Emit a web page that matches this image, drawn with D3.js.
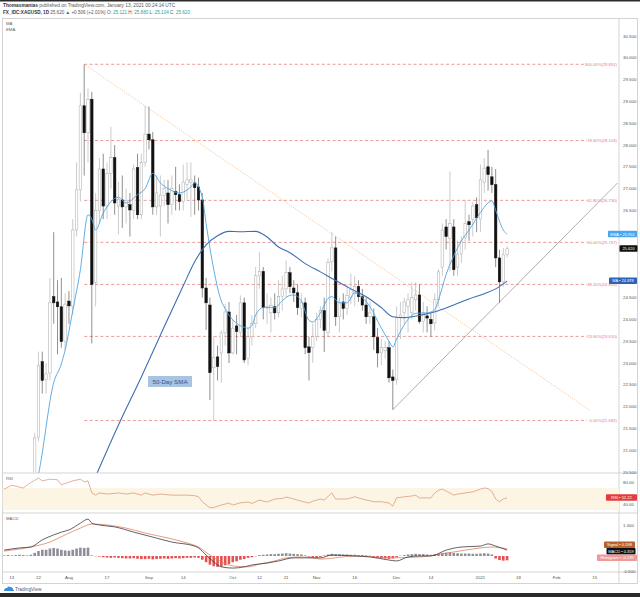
<!DOCTYPE html>
<html><head><meta charset="utf-8">
<script src="https://cdn.jsdelivr.net/npm/d3@7/dist/d3.min.js"></script>
<style>html,body{margin:0;padding:0;background:#fff;}svg{display:block;font-family:"Liberation Sans",Arial,sans-serif;}</style>
</head><body>
<svg id="chart" width="640" height="597"></svg>
<script>
// ---------- DATA ----------
const holidays = ["2020-12-25","2021-01-01"];
const candleStart = "2020-07-20"; // consecutive trading days from here
const opens = [
 19.85,20.40,21.30,23.03,22.62,22.77,24.52,24.40,24.29,23.50,
 24.42,24.30,26.05,26.97,28.90,28.28,29.05,24.85,26.50,27.45,26.60,27.35,27.71,26.60,26.74,26.58,26.63,26.50,27.48,26.40,27.60,
 28.25,28.12,26.58,26.60,26.85,26.90,26.63,26.93,26.86,26.70,27.10,27.15,27.13,27.04,26.74,24.72,24.33,22.89,23.14,23.23,23.69,24.17,
 23.23,23.85,23.70,24.38,23.10,23.60,23.90,25.00,25.10,24.27,24.15,24.29,24.15,24.52,24.70,25.07,24.72,24.61,24.25,24.38,23.37,23.35,
 23.60,24.00,24.20,23.70,25.32,25.64,24.06,24.40,24.25,24.50,24.60,24.75,24.52,24.33,24.06,24.06,23.58,23.23,23.28,23.35,22.68,
 22.62,24.04,24.15,24.30,24.15,24.45,24.56,23.95,24.08,24.00,23.92,24.45,25.20,26.12,25.85,26.12,25.20,25.50,25.88,26.24,26.30,26.63,
 26.30,27.15,27.50,27.27,27.09,25.41,24.86,25.48];
const highs = [
 20.45,21.40,23.26,23.26,23.00,24.95,26.00,24.90,24.95,24.60,
 24.65,26.30,27.60,29.20,29.851,29.30,29.22,26.90,27.70,27.80,27.60,28.42,28.00,27.15,27.30,27.00,26.90,27.55,27.80,27.80,28.90,
 28.88,28.30,27.30,27.30,27.20,27.20,27.30,27.50,27.10,27.55,27.60,27.60,27.30,27.25,26.90,24.95,24.50,23.60,23.40,23.75,24.35,24.40,
 24.00,24.10,24.55,24.50,23.80,24.10,25.20,25.55,25.20,24.60,24.50,24.60,24.90,25.00,25.35,25.20,24.90,24.80,24.60,24.50,23.60,23.90,
 24.15,24.30,24.50,25.40,26.00,25.90,24.50,24.60,24.80,25.05,25.00,24.90,24.70,24.50,24.40,24.25,23.80,23.55,23.50,23.50,22.85,
 24.30,24.40,24.50,24.60,24.85,24.85,24.80,24.40,24.30,24.15,24.60,25.15,26.20,26.30,27.39,26.30,25.80,25.90,26.74,26.40,26.70,26.80,
 27.55,27.70,27.89,27.50,27.45,25.60,25.64,25.68];
const lows = [
 19.75,20.30,21.20,22.30,22.30,22.60,23.90,23.20,23.35,23.30,
 23.90,24.10,25.90,26.70,27.30,27.60,23.45,24.30,26.20,26.30,26.30,27.00,26.40,25.95,26.10,26.20,25.90,26.30,26.30,26.30,27.50,
 27.90,26.40,26.40,25.90,26.60,26.20,26.40,26.50,26.50,26.50,26.75,26.35,26.40,26.50,24.50,23.76,22.15,21.68,22.60,22.55,23.40,23.00,
 23.20,23.20,23.60,23.00,22.95,23.40,23.80,24.70,24.00,23.90,23.70,24.00,24.05,24.20,24.50,24.60,24.40,24.10,24.05,23.20,22.60,23.00,
 23.50,23.80,23.25,23.60,25.10,23.85,23.70,24.00,24.10,24.35,24.30,24.40,24.20,23.90,23.90,23.30,22.90,22.95,23.10,22.55,21.93,
 22.50,23.55,23.90,23.70,24.00,24.20,23.90,23.70,23.70,23.60,23.75,24.30,25.00,25.60,25.10,25.00,25.00,25.30,25.60,25.80,25.90,26.00,
 26.00,26.90,26.95,26.90,25.20,24.38,24.75,25.42];
const closes = [
 20.40,21.28,22.95,22.60,22.75,24.38,24.38,24.29,23.49,24.35,
 24.31,26.05,26.97,28.90,28.28,29.05,24.80,26.50,27.45,26.60,27.35,27.71,26.67,26.75,26.58,26.72,26.51,27.45,26.40,27.60,28.25,
 28.12,26.58,26.90,26.85,27.00,26.63,27.00,26.86,26.70,27.15,27.20,27.20,27.02,26.74,24.72,24.38,22.78,23.12,22.92,23.69,24.17,23.23,
 23.80,23.72,24.38,23.07,23.60,23.90,25.00,25.10,24.27,24.30,24.32,24.15,24.52,24.70,25.07,24.75,24.61,24.27,24.40,23.35,23.24,23.60,
 24.00,24.20,23.75,25.30,25.64,24.06,24.40,24.25,24.55,24.68,24.75,24.52,24.33,24.06,24.15,23.60,23.23,23.35,23.36,22.66,22.60,
 24.04,24.10,24.40,24.45,24.50,24.56,23.95,24.15,24.03,23.90,24.45,25.09,26.05,25.90,26.20,25.14,25.50,25.80,26.20,26.17,26.60,26.33,
 27.20,27.47,27.32,27.09,25.41,24.86,25.48,25.62];

const emaDates = ["2020-07-17","2020-07-22","2020-07-28","2020-07-30","2020-07-31","2020-08-04","2020-08-06","2020-08-10","2020-08-11","2020-08-12","2020-08-14","2020-08-20","2020-08-24","2020-08-27","2020-08-31","2020-09-02","2020-09-04","2020-09-08","2020-09-11","2020-09-16","2020-09-17","2020-09-21","2020-09-22","2020-09-24","2020-09-28","2020-09-29","2020-09-30","2020-10-01","2020-10-06","2020-10-07","2020-10-08","2020-10-09","2020-10-13","2020-10-16","2020-10-20","2020-10-22","2020-10-23","2020-10-27","2020-10-29","2020-10-30","2020-11-03","2020-11-05","2020-11-06","2020-11-10","2020-11-12","2020-11-16","2020-11-18","2020-11-20","2020-11-25","2020-11-27","2020-11-30","2020-12-01","2020-12-04","2020-12-08","2020-12-11","2020-12-15","2020-12-16","2020-12-18","2020-12-22","2020-12-24","2020-12-29","2021-01-04","2021-01-06","2021-01-07","2021-01-08","2021-01-12","2021-01-13"];
const emaValues = [19.6,20.45,22.55,22.98,23.3,24.2,25.14,26.4,26.3,26.05,26.44,26.8,26.67,26.86,27.0,27.35,27.13,27.0,26.9,27.04,27.13,26.8,26.2,25.15,24.42,24.25,24.1,23.99,23.82,23.8,23.86,24.1,24.27,24.27,24.43,24.55,24.56,24.42,23.98,23.94,24.15,24.48,24.52,24.38,24.38,24.61,24.5,24.29,23.8,23.5,23.37,23.55,24.0,24.14,24.15,24.22,24.45,25.03,25.46,25.8,26.05,26.45,26.67,26.72,26.5,26.05,25.951];

const smaDates = ["2020-08-11","2020-08-12","2020-08-20","2020-08-28","2020-09-07","2020-09-14","2020-09-17","2020-09-22","2020-09-25","2020-09-30","2020-10-05","2020-10-09","2020-10-14","2020-10-19","2020-10-22","2020-10-28","2020-11-03","2020-11-09","2020-11-13","2020-11-19","2020-11-25","2020-11-30","2020-12-03","2020-12-10","2020-12-16","2020-12-22","2020-12-29","2021-01-05","2021-01-08","2021-01-13"];
const smaValues = [20.2,20.4,21.58,22.68,23.83,24.77,25.32,25.71,25.92,26.02,26.01,26.02,25.89,25.66,25.53,25.28,25.09,24.89,24.70,24.52,24.27,24.06,24.04,24.11,24.20,24.33,24.47,24.59,24.70,24.878];

const fibLevels = [1, 0.786, 0.618, 0.5, 0.382, 0.236, 0];
const fibHigh = 29.851, fibLow = 21.682, fibStart = "2020-08-07", fibEnd = "2021-02-11";
const descLine = [["2020-08-07",29.851],["2021-02-12",21.9]];
const ascLine = [["2020-11-30",21.93],["2021-02-23",27.13]];

const rsiDates = ["2020-07-09","2020-07-13","2020-07-16","2020-07-20","2020-07-21","2020-07-22","2020-07-23","2020-07-27","2020-07-29","2020-07-30","2020-07-31","2020-08-04","2020-08-06","2020-08-07","2020-08-10","2020-08-11","2020-08-12","2020-08-13","2020-08-17","2020-08-20","2020-08-24","2020-08-26","2020-08-28","2020-08-31","2020-09-02","2020-09-04","2020-09-09","2020-09-15","2020-09-17","2020-09-18","2020-09-21","2020-09-23","2020-09-24","2020-09-28","2020-09-30","2020-10-01","2020-10-05","2020-10-07","2020-10-08","2020-10-12","2020-10-14","2020-10-16","2020-10-20","2020-10-21","2020-10-23","2020-10-27","2020-10-29","2020-10-30","2020-11-03","2020-11-04","2020-11-06","2020-11-09","2020-11-12","2020-11-16","2020-11-18","2020-11-23","2020-11-25","2020-11-27","2020-11-30","2020-12-01","2020-12-03","2020-12-07","2020-12-08","2020-12-09","2020-12-14","2020-12-15","2020-12-16","2020-12-17","2020-12-18","2020-12-22","2020-12-23","2020-12-28","2020-12-30","2021-01-04","2021-01-05","2021-01-06","2021-01-07","2021-01-08","2021-01-11","2021-01-12","2021-01-13"];
const rsiValues = [68,75,70,80,84,88,83,86,85,76,78,83,86,81,83,61,57,61,59,61,59,61,57,61,57,59,57,57,56,54,45,34,34.5,39,42.7,39,43,44.5,42,48,44.5,50,51,53.6,50,46,42.7,46,50,48,61,50,50,54,50,45,45,42.7,37,52,54,55.5,57,52,52,61,66,68,64.5,57,59,61,63,68,70,69,64,50,45,50,52.22];

const macdDates = ["2020-07-09","2020-07-15","2020-07-20","2020-07-23","2020-07-28","2020-07-30","2020-08-03","2020-08-06","2020-08-10","2020-08-11","2020-08-13","2020-08-19","2020-08-26","2020-09-02","2020-09-09","2020-09-17","2020-09-18","2020-09-22","2020-09-24","2020-09-28","2020-10-01","2020-10-06","2020-10-08","2020-10-14","2020-10-19","2020-10-23","2020-10-28","2020-11-03","2020-11-06","2020-11-16","2020-11-20","2020-11-27","2020-12-01","2020-12-04","2020-12-09","2020-12-14","2020-12-18","2020-12-24","2021-01-04","2021-01-06","2021-01-08","2021-01-13"];
const macdValues = [0.19,0.26,0.29,0.52,0.68,0.77,0.84,1.06,1.19,1.06,1.0,0.94,0.77,0.61,0.45,0.32,0.26,0.03,-0.19,-0.35,-0.39,-0.35,-0.29,-0.23,-0.16,-0.06,-0.06,-0.06,0.03,0,-0.03,-0.13,-0.16,-0.03,0,0,0.19,0.29,0.32,0.39,0.32,0.19];
const signalDates = ["2020-07-09","2020-07-20","2020-07-27","2020-07-31","2020-08-06","2020-08-11","2020-08-17","2020-08-24","2020-08-31","2020-09-08","2020-09-15","2020-09-18","2020-09-23","2020-09-28","2020-10-01","2020-10-07","2020-10-12","2020-10-16","2020-10-21","2020-10-27","2020-10-30","2020-11-03","2020-11-16","2020-11-27","2020-12-09","2020-12-22","2021-01-04","2021-01-07","2021-01-13"];
const signalValues = [0.16,0.29,0.45,0.68,0.90,1.03,1.0,0.9,0.74,0.58,0.42,0.29,0.03,-0.19,-0.32,-0.35,-0.26,-0.16,-0.06,-0.03,-0.06,-0.1,0,-0.06,-0.03,0.13,0.26,0.29,0.23];
const histStart = "2020-07-09";
const histValues = [
 0.02,0.03,0.02,0.03,0.04,0.03,0.02,
 0.04,0.10,0.16,0.20,0.20,0.24,0.26,0.24,0.20,0.18,0.17,0.20,0.24,0.27,0.26,0.27,
 0.02,-0.01,-0.02,
 -0.04,-0.05,-0.06,-0.05,-0.06,-0.07,-0.08,-0.08,-0.07,-0.09,-0.10,-0.10,-0.09,-0.11,-0.10,-0.09,-0.08,-0.09,-0.08,-0.07,-0.08,-0.07,-0.06,-0.06,-0.05,-0.06,
 -0.12,-0.20,-0.28,-0.33,-0.35,-0.34,-0.30,-0.26,-0.20,-0.17,-0.12,-0.10,-0.06,-0.04,-0.01,
 0.03,0.04,0.05,0.06,0.06,0.07,0.08,0.09,0.08,0.07,0.06,0.05,0.02,-0.02,-0.04,-0.05,-0.03,
 0.02,0.05,0.07,0.06,0.06,0.05,0.05,0.04,0.04,0.03,0.03,0.02,0.01,
 -0.03,-0.05,-0.07,-0.08,-0.09,-0.08,
 -0.04,0.01,0.03,0.05,0.06,0.07,0.06,0.06,0.05,0.04,0.06,0.08,0.10,0.11,0.12,0.10,0.09,0.08,0.08,0.08,0.07,0.07,0.08,0.09,0.08,0.05,
 -0.08,-0.13,-0.15,-0.14];

const priceTicks = [20.5,21,21.5,22,22.5,23,23.5,24,24.5,25,25.5,26,26.5,27,27.5,28,28.5,29,29.5,30,30.5];
const rsiTicks = [80,60,40];
const macdTicks = [1,0.5,0,-0.5];
const xTickDates = ["2020-07-13","2020-07-22","2020-08-03","2020-08-17","2020-09-01","2020-09-14","2020-10-01","2020-10-12","2020-10-21","2020-11-02","2020-11-16","2020-12-01","2020-12-14","2021-01-04","2021-01-18","2021-02-01","2021-02-15"];
const xTickLabels = ["13","22","Aug","17","Sep","14","Oct","12","21","Nov","16","Dec","14","2021","18","Feb","15"];

// ---------- CALENDAR / SCALES ----------
const cal = [];
for (let d = new Date(Date.UTC(2020,6,1)); d <= new Date(Date.UTC(2021,2,10)); d.setUTCDate(d.getUTCDate()+1)) {
  const wd = d.getUTCDay(); const s = d.toISOString().slice(0,10);
  if (wd > 0 && wd < 6 && !holidays.includes(s)) cal.push(s);
}
const base = cal.indexOf("2020-07-13");
const idx = s => cal.indexOf(s) - base;
const x = d3.scaleLinear().domain([0, 1]).range([11.8, 15.61]);
const xd = s => x(idx(s));
const yMain = d3.scaleLinear().domain([20.5, 30.5]).range([472, 36]);
const yRsi = d3.scaleLinear().domain([30, 70]).range([510, 488]);
const yMacd = d3.scaleLinear().domain([0, 1]).range([556, 525]);

const c0 = cal.indexOf(candleStart);
const candles = opens.map((o,i)=>({date: cal[c0+i], o, h: highs[i], l: lows[i], c: closes[i]}));
const zip = (ds, vs) => ds.map((d,i)=>({date:d, v:vs[i]}));
const h0 = cal.indexOf(histStart);
const hist = histValues.map((v,i)=>({date: cal[h0+i], v}));

const PANE_L = 2.5, PANE_R = 619;
const svg = d3.select("#chart");
const defs = svg.append("defs");
function clip(id, y0, y1){ defs.append("clipPath").attr("id",id).append("rect").attr("x",PANE_L).attr("y",y0).attr("width",PANE_R-PANE_L).attr("height",y1-y0); }
clip("cMain", 18.5, 472.8); clip("cRsi", 473.3, 512.7); clip("cMacd", 513.3, 571.7);

// ---------- FRAME ----------
svg.append("rect").attr("width",640).attr("height",597).attr("fill","#fff");
svg.append("rect").attr("width",640).attr("height",1.5).attr("fill","#2b2b2b");
svg.append("rect").attr("y",593).attr("width",640).attr("height",4).attr("fill","#2b2b2b");
svg.append("rect").attr("x",PANE_L).attr("y",18.5).attr("width",635).attr("height",565).attr("fill","none").attr("stroke","#c9c9c9").attr("stroke-width",0.8);
[473,513,572].forEach(y=>svg.append("line").attr("x1",PANE_L).attr("x2",637.5).attr("y1",y).attr("y2",y).attr("stroke","#c9c9c9").attr("stroke-width",0.8));
svg.append("line").attr("x1",PANE_R).attr("x2",PANE_R).attr("y1",18.5).attr("y2",583.5).attr("stroke","#c9c9c9").attr("stroke-width",0.8);

// header
const h1 = svg.append("text").attr("x",3).attr("y",6.5).attr("font-size",4.8).attr("fill","#555");
h1.append("tspan").attr("font-weight","bold").attr("fill","#333").text("Thomasmanias");
h1.append("tspan").text(" published on TradingView.com, January 13, 2021 00:24:14 UTC");
const h2 = svg.append("text").attr("x",3).attr("y",13.5).attr("font-size",4.6).attr("fill","#555");
h2.append("tspan").attr("font-weight","bold").attr("fill","#333").text("FX_IDC:XAGUSD, 1D");
h2.append("tspan").text(" 25.620 ▲ +0.506 (+2.01%) O: ");
h2.append("tspan").attr("fill","#26a69a").text("25.121");
h2.append("tspan").text(" H: ");
h2.append("tspan").attr("fill","#26a69a").text("25.880");
h2.append("tspan").text(" L: ");
h2.append("tspan").attr("fill","#26a69a").text("25.104");
h2.append("tspan").text(" C: ");
h2.append("tspan").attr("fill","#26a69a").text("25.620");
svg.append("text").attr("x",6).attr("y",25).attr("font-size",4.3).attr("fill","#666").text("MA");
svg.append("text").attr("x",6).attr("y",31).attr("font-size",4.3).attr("fill","#666").text("EMA");

// ---------- MAIN PANE ----------
const gMain = svg.append("g").attr("clip-path","url(#cMain)");
fibLevels.forEach(f=>{
  const v = fibLow + (fibHigh - fibLow)*f;
  gMain.append("line").attr("x1",xd(fibStart)).attr("x2",xd(fibEnd)).attr("y1",yMain(v)).attr("y2",yMain(v))
    .attr("stroke","#e88080").attr("stroke-width",0.8).attr("stroke-dasharray","3,2.4");
  svg.append("text").attr("x",617).attr("y",yMain(v)+1.5).attr("text-anchor","end").attr("font-size",4.2).attr("fill","#e37b7b")
    .text((f*100).toFixed(2)+"%("+v.toFixed(3)+")");
});
const tl = d3.line().x(d=>xd(d[0])).y(d=>yMain(d[1]));
gMain.append("path").attr("d",tl(descLine)).attr("fill","none").attr("stroke","#f3b37a").attr("stroke-width",0.8).attr("stroke-dasharray","1,1.3");
gMain.append("path").attr("d",tl(ascLine)).attr("fill","none").attr("stroke","#9a9a9a").attr("stroke-width",0.8);

const cw = 2.5;
const cg = gMain.append("g");
cg.selectAll("line.w").data(candles).join("line")
  .attr("x1",d=>xd(d.date)).attr("x2",d=>xd(d.date)).attr("y1",d=>yMain(d.h)).attr("y2",d=>yMain(d.l))
  .attr("stroke",d=>d.c>=d.o?"#a8a8a8":"#444").attr("stroke-width",0.6);
cg.selectAll("rect").data(candles).join("rect")
  .attr("x",d=>xd(d.date)-cw/2).attr("width",cw)
  .attr("y",d=>yMain(Math.max(d.o,d.c))).attr("height",d=>Math.max(0.6,Math.abs(yMain(d.o)-yMain(d.c))))
  .attr("fill",d=>d.c>=d.o?"#fff":"#111").attr("stroke",d=>d.c>=d.o?"#a8a8a8":"#111").attr("stroke-width",0.5);

const lineMain = d3.line().x(d=>xd(d.date)).y(d=>yMain(d.v)).curve(d3.curveMonotoneX);
gMain.append("path").attr("d",lineMain(zip(smaDates,smaValues))).attr("fill","none").attr("stroke","#3d6eb2").attr("stroke-width",1.1);
gMain.append("path").attr("d",lineMain(zip(emaDates,emaValues))).attr("fill","none").attr("stroke","#4ea5e2").attr("stroke-width",0.9);

svg.append("rect").attr("x",148).attr("y",376).attr("width",44).attr("height",11).attr("fill","#a9c3e2");
svg.append("text").attr("x",170).attr("y",383.6).attr("text-anchor","middle").attr("font-size",6.2).attr("fill","#2a5592").text("50-Day SMA");

// ---------- value boxes on the price scale ----------
const BH = 7;
const boxes = [
  {x0:608, yc:yMain(emaValues[emaValues.length-1]), w:29, fill:"#47a8f0", txt:"EMA • 25.951"},
  {x0:619.5, yc:yMain(closes[closes.length-1]), w:18, fill:"#111", txt:"25.620"},
  {x0:609, yc:yMain(smaValues[smaValues.length-1]), w:28, fill:"#2d62b8", txt:"MA • 24.878"},
  {x0:606, yc:yRsi(rsiValues[rsiValues.length-1]), w:31, fill:"#e23d3d", txt:"RSI • 52.22"},
  {x0:604, yc:545, w:31, fill:"#b8602e", txt:"Signal • 0.598"},
  {x0:606.5, yc:551.5, w:29, fill:"#111", txt:"MACD • 0.359"},
  {x0:597, yc:558, w:40, fill:"#ee9a9a", txt:"Histogram • -0.239"}
];
const free = y => boxes.every(b => Math.abs(b.yc - y) > BH/2 + 2.2);

svg.selectAll("text.pt").data(priceTicks.filter(t=>free(yMain(t)))).join("text").attr("class","pt")
  .attr("x",623).attr("y",d=>yMain(d)+1.5).attr("font-size",4.4).attr("fill","#555").text(d=>d.toFixed(3));

// ---------- RSI ----------
const gRsi = svg.append("g").attr("clip-path","url(#cRsi)");
gRsi.append("rect").attr("x",PANE_L).attr("width",PANE_R-PANE_L).attr("y",yRsi(70)).attr("height",yRsi(30)-yRsi(70)).attr("fill","#fdf5e4");
gRsi.append("path").attr("d",d3.line().x(d=>xd(d.date)).y(d=>yRsi(d.v))(zip(rsiDates,rsiValues)))
  .attr("fill","none").attr("stroke","#d98e73").attr("stroke-width",0.7);
svg.append("text").attr("x",6).attr("y",480).attr("font-size",4.3).attr("fill","#666").text("RSI");
svg.selectAll("text.rt").data(rsiTicks.filter(t=>free(yRsi(t)))).join("text").attr("class","rt")
  .attr("x",623).attr("y",d=>yRsi(d)+1.5).attr("font-size",4.4).attr("fill","#555").text(d=>d.toFixed(2));

// ---------- MACD ----------
const gMacd = svg.append("g").attr("clip-path","url(#cMacd)");
gMacd.selectAll("rect").data(hist).join("rect")
  .attr("x",d=>xd(d.date)-1.3).attr("width",2.6)
  .attr("y",d=>Math.min(yMacd(d.v),yMacd(0))).attr("height",d=>Math.abs(yMacd(d.v)-yMacd(0)))
  .attr("fill",d=>d.v>=0?"#8e8e99":"#e65050");
const lineM = d3.line().x(d=>xd(d.date)).y(d=>yMacd(d.v)).curve(d3.curveMonotoneX);
gMacd.append("path").attr("d",lineM(zip(signalDates,signalValues))).attr("fill","none").attr("stroke","#e0825a").attr("stroke-width",0.8);
gMacd.append("path").attr("d",lineM(zip(macdDates,macdValues))).attr("fill","none").attr("stroke","#3a3a44").attr("stroke-width",0.8);
svg.append("text").attr("x",6).attr("y",520).attr("font-size",4.3).attr("fill","#666").text("MACD");
svg.selectAll("text.mt").data(macdTicks.filter(t=>free(yMacd(t)))).join("text").attr("class","mt")
  .attr("x",623).attr("y",d=>yMacd(d)+1.5).attr("font-size",4.4).attr("fill","#555").text(d=>d.toFixed(3));

boxes.forEach(b=>{
  svg.append("rect").attr("x",b.x0).attr("y",b.yc-BH/2).attr("width",b.w).attr("height",BH-0.5).attr("fill",b.fill).attr("rx",0.8);
  svg.append("text").attr("x",b.x0+b.w/2).attr("y",b.yc+1.3).attr("text-anchor","middle").attr("font-size",4).attr("fill","#fff").text(b.txt);
});

// ---------- TIME AXIS ----------
svg.selectAll("text.xt").data(xTickDates).join("text").attr("class","xt")
  .attr("x",d=>xd(d)).attr("y",579).attr("text-anchor","middle").attr("font-size",4.4).attr("fill","#555")
  .text((d,i)=>xTickLabels[i]);

svg.append("path").attr("d","M4,591 q0,-3 3,-3 q1,-2.5 3.5,-1 q2.5,0 2.5,2.5 q1.5,0.3 1,1.5 z").attr("fill","#3b8ddf");
svg.append("text").attr("x",15).attr("y",590.5).attr("font-size",4.8).attr("fill","#4a5b75").text("TradingView");
</script>
</body></html>
